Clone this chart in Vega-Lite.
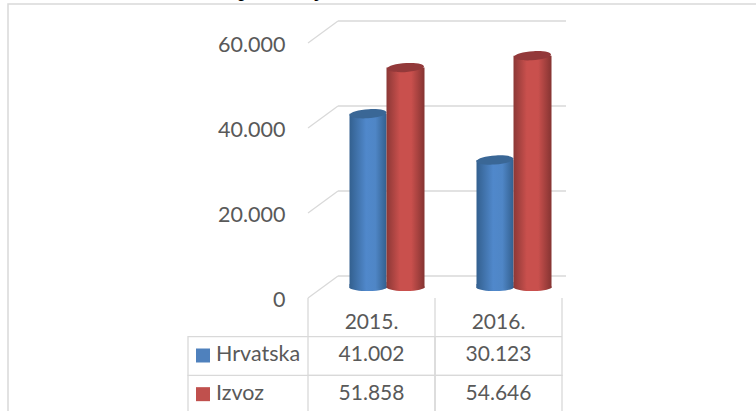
{
 "$schema":"https://vega.github.io/schema/vega-lite/v6.json",
 "width":760,"height":440,
 "padding":{"left":8,"top":4,"right":0,"bottom":0},
 "autosize":"none",
 "background":"white",
 "title":{"text":"proizvodnja","anchor":"start","frame":"group","dx":232,"offset":3,"font":"Liberation Serif","fontStyle":"italic","fontWeight":"bold","fontSize":19,"color":"#000000"},
 "config":{"locale":{"number":{"decimal":",","thousands":".","grouping":[3],"currency":["","€"]}},"view":{"stroke":"#d9d9d9","strokeWidth":1.5},"font":"Lato","text":{"font":"Lato"}},
 "datasets":{
  "vals":[
   {"year":"2015.","series":"Hrvatska","value":41002},
   {"year":"2016.","series":"Hrvatska","value":30123},
   {"year":"2015.","series":"Izvoz","value":51858},
   {"year":"2016.","series":"Izvoz","value":54646}],
  "ticks":[{"t":0},{"t":20000},{"t":40000},{"t":60000}],
  "series":[{"series":"Hrvatska"},{"series":"Izvoz"}],
  "years":[{"year":"2015."},{"year":"2016."}],
  "cols":[{"col":"2015."},{"col":"2016."},{"col":"end"}],
  "cells":[
   {"col":"2015.","row":"Hrvatska"},{"col":"2016.","row":"Hrvatska"},
   {"col":"2015.","row":"Izvoz"},{"col":"2016.","row":"Izvoz"}]
 },
 "resolve":{"scale":{"x":"independent","y":"independent"},"axis":{"x":"independent","y":"independent"}},
 "layer":[
  {
   "data":{"name":"ticks"},
   "layer":[
    {"mark":{"type":"rule","stroke":"#d9d9d9","strokeWidth":1.3,"yOffset":-22},
     "encoding":{
      "x":{"datum":0,"type":"quantitative","scale":{"domain":[0,1],"range":[330,558]},"axis":null},
      "x2":{"datum":1},
      "y":{"field":"t","type":"quantitative","scale":{"domain":[0,60000],"range":[294,39],"nice":false,"zero":false},
       "axis":{"orient":"left","offset":-277,"values":[0,20000,40000,60000],"format":",.0f","domain":false,"ticks":false,"grid":false,"labelPadding":0,"labelOffset":2,"labelFont":"Lato","labelFontSize":21.5,"labelColor":"#595959","title":null}}}},
    {"mark":{"type":"point","shape":"M0,0L-30,22","stroke":"#d9d9d9","strokeWidth":1.3,"fill":null,"size":4,"filled":false,"opacity":1,"yOffset":-22},
     "encoding":{
      "x":{"datum":0,"type":"quantitative"},
      "y":{"field":"t","type":"quantitative"}}}
   ]
  },
  {
   "data":{"name":"vals"},
   "encoding":{
    "x":{"field":"year","type":"nominal","scale":{"domain":["2015.","2016."],"range":[315,569],"paddingInner":0,"paddingOuter":0},"axis":null},
    "y":{"field":"value","type":"quantitative","scale":{"domain":[0,60000],"range":[294,39],"nice":false,"zero":false},"axis":null}
   },
   "layer":[
    {"transform":[{"filter":"datum.series==='Hrvatska'"}],
     "layer":[
      {"mark":{"type":"point","shape":"M-18.5,0A18.5,4 0 0 0 18.5,-2L18.5,-6L-18.5,-4Z","size":4,"filled":true,"opacity":1,"xOffset":-18.5,"yOffset":-10,
        "fill":{"gradient":"linear","x1":0,"x2":1,"y1":0,"y2":0,"stops":[{"offset":0,"color":"#33608f"},{"offset":0.45,"color":"#5088cb"},{"offset":0.7,"color":"#4f86c6"},{"offset":1,"color":"#33608f"}]}},
       "encoding":{"y":{"datum":0}}},
      {"mark":{"type":"bar","width":37,"xOffset":-18.5,"yOffset":-10,
        "fill":{"gradient":"linear","x1":0,"x2":1,"y1":0,"y2":0,"stops":[{"offset":0,"color":"#33608f"},{"offset":0.45,"color":"#5088cb"},{"offset":0.7,"color":"#4f86c6"},{"offset":1,"color":"#33608f"}]}}},
      {"mark":{"type":"point","shape":"M-18.5,1A18.5,4.5 -4 1 1 18.5,-1A18.5,4.5 -4 1 1 -18.5,1Z","size":4,"filled":true,"opacity":1,"fill":"#3a6796","xOffset":-18.5,"yOffset":-10}}
     ]},
    {"transform":[{"filter":"datum.series==='Izvoz'"}],
     "layer":[
      {"mark":{"type":"point","shape":"M-18.5,0A18.5,4 0 0 0 18.5,-2L18.5,-6L-18.5,-4Z","size":4,"filled":true,"opacity":1,"xOffset":19,"yOffset":-10,
        "fill":{"gradient":"linear","x1":0,"x2":1,"y1":0,"y2":0,"stops":[{"offset":0,"color":"#8c3836"},{"offset":0.35,"color":"#c9504d"},{"offset":0.65,"color":"#c9504d"},{"offset":1,"color":"#853432"}]}},
       "encoding":{"y":{"datum":0}}},
      {"mark":{"type":"bar","width":38,"xOffset":19,"yOffset":-10,
        "fill":{"gradient":"linear","x1":0,"x2":1,"y1":0,"y2":0,"stops":[{"offset":0,"color":"#8c3836"},{"offset":0.35,"color":"#c9504d"},{"offset":0.65,"color":"#c9504d"},{"offset":1,"color":"#853432"}]}}},
      {"mark":{"type":"point","shape":"M-18.5,1A18.5,4.5 -4 1 1 18.5,-1A18.5,4.5 -4 1 1 -18.5,1Z","size":4,"filled":true,"opacity":1,"fill":"#93393a","xOffset":19,"yOffset":-10}}
     ]}
   ]
  },
  {
   "encoding":{
    "x":{"field":"col","type":"nominal","scale":{"domain":["serija","2015.","2016.","end"],"range":[173,681],"paddingInner":0,"paddingOuter":0},"axis":null},
    "y":{"field":"row","type":"nominal","scale":{"domain":["header","Hrvatska","Izvoz"],"range":[294,410],"paddingInner":0,"paddingOuter":0},"axis":null}
   },
   "layer":[
    {"data":{"name":"cells"},
     "mark":{"type":"rect","fill":null,"stroke":"#d9d9d9","strokeWidth":1.3}},
    {"data":{"name":"series"},
     "mark":{"type":"point","shape":"M0,0L-120,0L-120,39","stroke":"#d9d9d9","strokeWidth":1.3,"fill":null,"size":4,"filled":false,"opacity":1},
     "encoding":{
      "x":{"datum":"2015.","bandPosition":0},
      "y":{"field":"series","type":"nominal","bandPosition":0}}},
    {"data":{"name":"cols"},
     "mark":{"type":"point","shape":"M0,0L0,38","stroke":"#d9d9d9","strokeWidth":1.3,"fill":null,"size":4,"filled":false,"opacity":1},
     "encoding":{
      "x":{"field":"col","type":"nominal","bandPosition":0},
      "y":{"datum":"header","bandPosition":0}}},
    {"data":{"name":"years"},
     "mark":{"type":"text","font":"Lato","fontSize":21,"fill":"#595959","yOffset":6},
     "encoding":{"x":{"field":"year","type":"nominal"},"y":{"datum":"header"},"text":{"field":"year"}}},
    {"data":{"name":"vals"},
     "mark":{"type":"text","font":"Lato","fontSize":21,"fill":"#595959","yOffset":-1},
     "encoding":{"x":{"field":"year","type":"nominal"},"y":{"field":"series","type":"nominal"},"text":{"field":"value","type":"quantitative","format":",.0f"}}},
    {"data":{"name":"series"},
     "mark":{"type":"text","font":"Lato","fontSize":21.5,"fill":"#595959","align":"left","xOffset":-28.5,"yOffset":-1},
     "encoding":{"x":{"datum":"serija"},"y":{"field":"series","type":"nominal"},"text":{"field":"series"}}},
    {"data":{"name":"series"},
     "mark":{"type":"square","size":196,"filled":true,"opacity":1,"xOffset":-41.5,"yOffset":-0.5},
     "encoding":{"x":{"datum":"serija"},"y":{"field":"series","type":"nominal"},
      "color":{"field":"series","type":"nominal","legend":null,"scale":{"domain":["Hrvatska","Izvoz"],"range":["#4f81bd","#c0504d"]}}}}
   ]
  }
 ]
}
